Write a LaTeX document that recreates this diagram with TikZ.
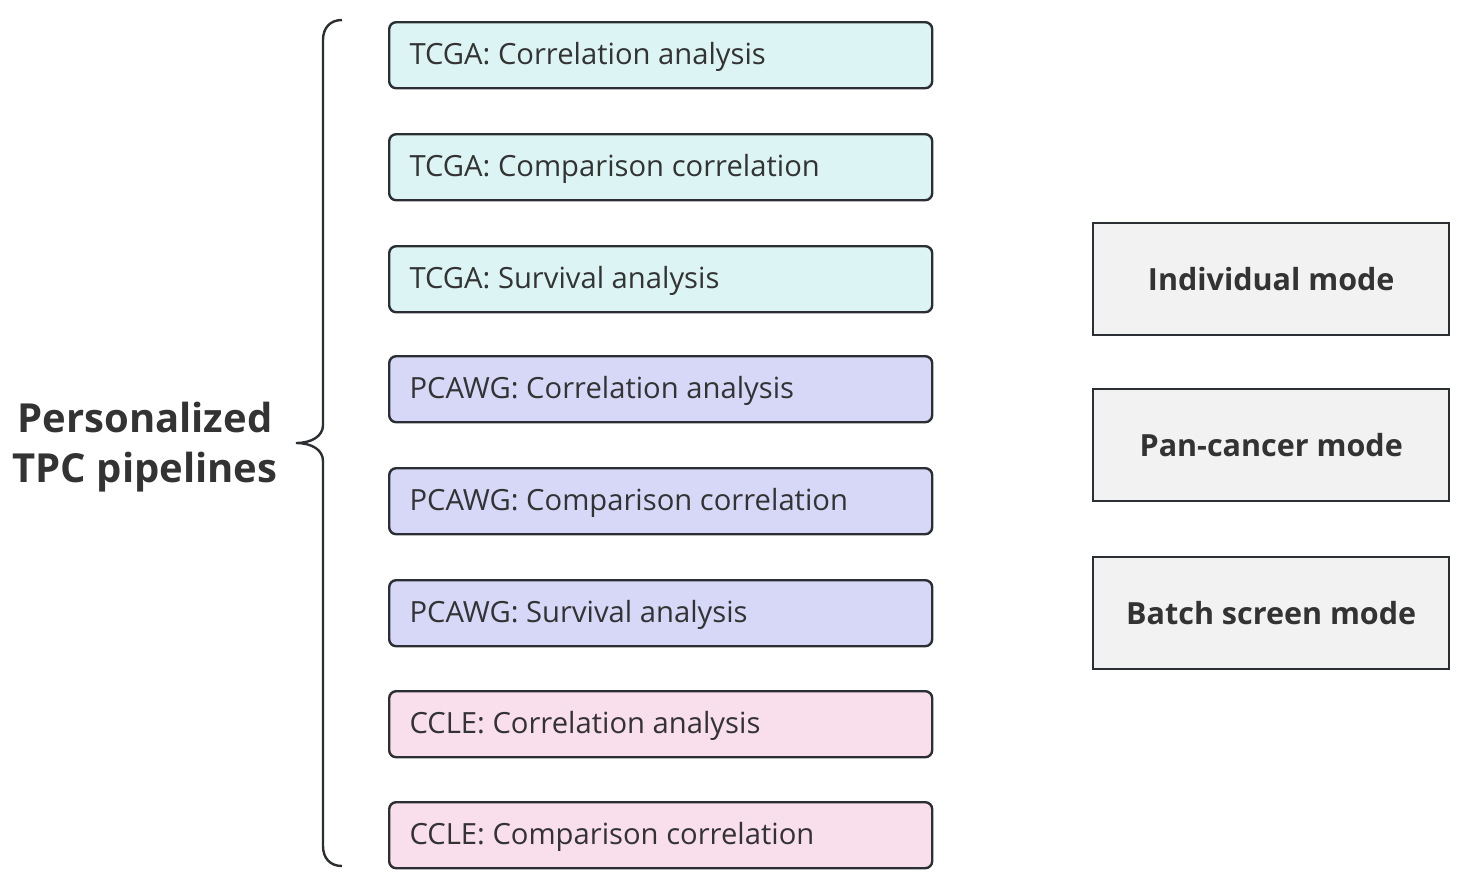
\documentclass[tikz,border=0pt]{standalone}
\usepackage{fontspec}
\setmainfont{Open Sans}
\begin{document}
\begin{tikzpicture}[x=1pt,y=-1pt,
  pbox/.style={draw=edge,line width=2.4pt,rounded corners=7pt,minimum width=543pt,minimum height=66pt,anchor=north west,inner sep=0pt},
  ptext/.style={anchor=west,text=txt,font=\fontsize{29.2}{34}\selectfont},
  mbox/.style={draw=edge,line width=2.4pt,fill=grayf,minimum width=356pt,minimum height=112pt,anchor=north west,text=txt,font=\bfseries\fontsize{30.5}{36}\selectfont},
]
\definecolor{edge}{HTML}{2B2F33}
\definecolor{txt}{HTML}{333333}
\definecolor{teal}{HTML}{DCF5F4}
\definecolor{purp}{HTML}{D7D8F8}
\definecolor{pink}{HTML}{F9DEEC}
\definecolor{grayf}{HTML}{F2F2F2}
\useasboundingbox (0,0) rectangle (1476,887);
\node[pbox,fill=teal] (b1) at (388,21) {};
\node[pbox,fill=teal] (b2) at (388,133) {};
\node[pbox,fill=teal] (b3) at (388,245) {};
\node[pbox,fill=purp] (b4) at (388,355) {};
\node[pbox,fill=purp] (b5) at (388,467) {};
\node[pbox,fill=purp] (b6) at (388,579) {};
\node[pbox,fill=pink] (b7) at (388,690) {};
\node[pbox,fill=pink] (b8) at (388,801) {};
\node[ptext] (t1) at ([xshift=18pt,yshift=-2pt]b1.west) {TCGA: Correlation analysis};
\node[ptext] (t2) at ([xshift=18pt,yshift=-2pt]b2.west) {TCGA: Comparison correlation};
\node[ptext] (t3) at ([xshift=18pt,yshift=-2pt]b3.west) {TCGA: Survival analysis};
\node[ptext] (t4) at ([xshift=18pt,yshift=-2pt]b4.west) {PCAWG: Correlation analysis};
\node[ptext] (t5) at ([xshift=18pt,yshift=-2pt]b5.west) {PCAWG: Comparison correlation};
\node[ptext] (t6) at ([xshift=18pt,yshift=-2pt]b6.west) {PCAWG: Survival analysis};
\node[ptext] (t7) at ([xshift=18pt,yshift=-2pt]b7.west) {CCLE: Correlation analysis};
\node[ptext] (t8) at ([xshift=18pt,yshift=-2pt]b8.west) {CCLE: Comparison correlation};
\node[mbox] (m1) at (1092,222) {Individual mode};
\node[mbox] (m2) at (1092,388) {Pan-cancer mode};
\node[mbox] (m3) at (1092,556) {Batch screen mode};
\node[text=txt,font=\bfseries\fontsize{40}{50}\selectfont,align=center] (lab) at (145,447) {Personalized\\TPC pipelines};
\coordinate (bt) at (342,20);
\coordinate (bb) at (342,866);
\coordinate (tip) at (296,443);
\draw[edge,line width=2.4pt] (bt) .. controls (330,20) and (323,28) .. (323,40) -- (323,425) .. controls (323,436) and (312,443) .. (tip) .. controls (312,443) and (323,450) .. (323,461) -- (323,846) .. controls (323,858) and (330,866) .. (bb);
\end{tikzpicture}
\end{document}
